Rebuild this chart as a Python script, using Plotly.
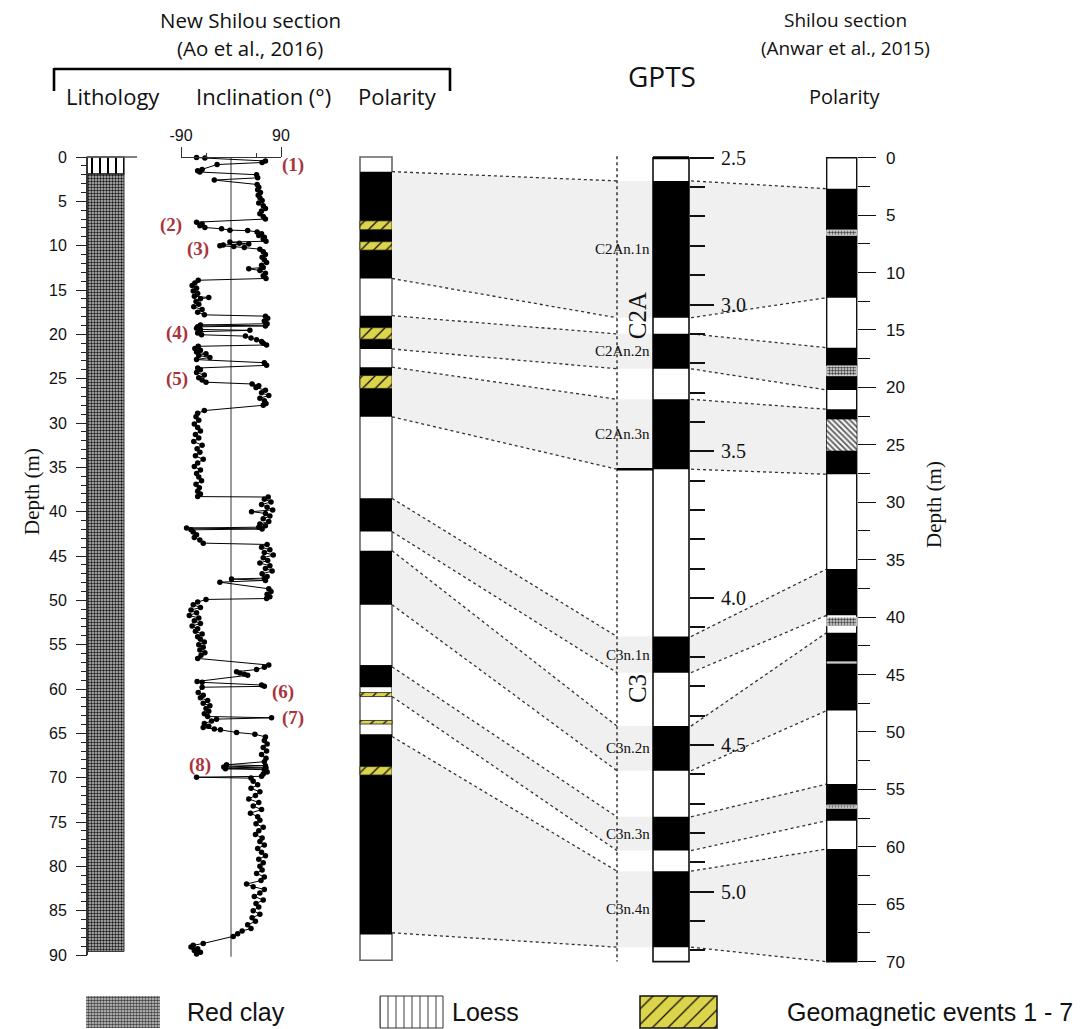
import plotly.graph_objects as go

W, H = 1089, 1029

# ------------------------------------------------------------------ data
# Inclination record, New Shilou section (depth m, inclination deg)
incl_depth = [
    0.05, 0.12, 0.45, 0.62, 0.85, 1.40, 1.55, 1.70, 2.00, 2.35, 2.60, 3.10,
    3.40, 3.70, 4.00, 4.30, 4.60, 4.90, 5.20, 5.50, 5.80, 6.10, 6.40, 6.70, 7.00,
    7.35, 7.55, 7.75, 7.95, 8.10, 8.25, 8.30, 8.45, 8.65, 8.85, 9.05, 9.25, 9.50,
    9.60, 9.72, 9.80, 9.92, 10.02, 10.10, 10.20, 10.40, 10.70, 11.00, 11.30, 11.60,
    11.90, 12.20, 12.45, 12.60, 12.80, 13.10, 13.40, 13.70,
    13.90, 14.20, 14.50, 14.80, 15.10, 15.40, 15.70, 15.85, 16.00, 16.30, 16.60,
    16.90, 17.20, 17.50, 17.80,
    17.95, 18.20, 18.50, 18.80, 18.95, 19.05, 19.15, 19.30, 19.45, 19.55, 19.70,
    19.85, 20.05, 20.20, 20.40, 20.60, 20.80, 21.00, 21.20,
    21.35, 21.60, 21.80, 22.00, 22.20, 22.40, 22.60, 22.85, 23.20, 23.50,
    23.80, 24.00, 24.30, 24.60, 24.90, 25.15, 25.40,
    25.60, 25.80, 26.00, 26.30, 26.60, 26.90, 27.20, 27.50, 27.80, 28.00,
    28.60, 28.90, 29.30, 29.70, 30.10, 30.50, 30.90, 31.30, 31.70, 32.10, 32.50,
    32.90, 33.30, 33.70, 34.10, 34.50, 34.90, 35.30, 35.70, 36.10, 36.50, 36.90,
    37.30, 37.70, 38.00, 38.30,
    38.35, 38.60, 38.90, 39.20, 39.50, 39.80, 40.00, 40.20, 40.50, 40.80, 41.10,
    41.40, 41.60, 41.75, 41.85, 41.95, 42.05, 42.30, 42.60, 42.90, 43.20, 43.55,
    43.70, 44.00, 44.30, 44.60, 44.90, 45.20, 45.50, 45.80, 46.10, 46.40, 46.70,
    47.00, 47.30, 47.50, 47.60, 47.75, 47.95, 48.70, 49.00, 49.30, 49.60, 49.80,
    49.90, 50.20, 50.50, 50.80, 51.10, 51.40, 51.70, 52.00, 52.30, 52.60, 52.90,
    53.20, 53.50, 53.80, 54.10, 54.40, 54.70, 55.00, 55.30, 55.60, 55.90, 56.20,
    56.55,
    57.30, 57.55, 57.80, 58.05, 58.20, 58.35, 58.45, 59.15, 59.25, 59.55, 59.70,
    59.80, 60.40, 60.70, 61.00, 61.30, 61.60, 61.90, 62.20, 62.50, 62.80, 63.10,
    63.25, 63.40, 63.60, 63.90, 64.20, 64.35, 64.50, 64.60, 64.90,
    65.10, 65.40, 65.80, 66.20, 66.60, 67.00, 67.40, 67.80, 68.20, 68.55, 68.65,
    68.80, 68.90, 69.00, 69.10, 69.35, 69.60, 69.85, 69.95, 70.05,
    70.40, 70.80, 71.20, 71.60, 72.00, 72.40, 72.80, 73.20, 73.60, 74.00, 74.40,
    74.80, 75.20, 75.60, 76.00, 76.40, 76.80, 77.20, 77.60, 78.00, 78.40, 78.80,
    79.20, 79.60, 80.00, 80.40, 80.80, 81.20, 81.60, 82.00, 82.30, 82.60, 83.00,
    83.40, 83.80, 84.20, 84.60, 85.00, 85.40, 85.80, 86.20, 86.60, 87.00, 87.30,
    87.60, 87.90,
    88.70, 88.90, 89.10, 89.30, 89.50, 89.70, 89.90,
]
incl_value = [
    -62, -47, 62, 56, -25, -52, -60, -56, 46, 48, -30, 47,
    50, 48, 53, 49, 52, 56, 50, 58, 62, 55, 52, 58, 62,
    -62, -52, -56, -47, -17, -2, 30, 47, 55, 50, 60, 58, 63,
    -2, 15, 32, -14, -20, 5, 24, 52, 58, 62, 56, 60,
    64, 55, 58, 32, 52, 62, 58, 63,
    -59, -65, -70, -62, -68, -60, -66, -40, -55, -63, -58,
    -67, -52, -60, -48,
    62, 66, 60, 65, -55, 62, -60, -62, -55, 34, -58,
    -60, -53, 26, 36, 46, 55, 58, 64,
    -59, -65, -55, -62, -45, -58, -38, -62, 60, 64,
    -60, -55, -62, -48, -58, -52, -45,
    38, 50, 45, 62, 55, 68, 52, 60, 63, 58,
    -48, -60, -63, -58, -66, -60, -55, -64, -58, -67, -52,
    -61, -56, -64, -50, -60, -66, -55, -62, -58, -53, -63,
    -57, -60, -55, -60,
    67, 60, 72, 55, 65, 75, 37, 62, 70, 58, 68,
    52, 62, 50, -80, 56, -72, -68, -62, -66, -56, -50,
    65, 55, 70, 60, 76, 58, 66, 52, 70, 62, 74,
    56, 65, 60, 1, 62, -20, 68, 72, 65, 70, 64,
    -45, -60, -68, -55, -72, -62, -75, -58, -66, -55, -70,
    -60, -64, -52, -60, -55, -48, -58, -50, -56, -47, -54,
    -60,
    68, 60, 46, 10, 16, 24, 30, -61, -52, 55, 60,
    -52, -59, -50, -55, -42, -50, -38, -45, -40, -48, -42,
    73, -26, -35, -48, -40, -50, -30, -19, 10,
    43, 62, 60, 65, 58, 64, 55, 63, 60, -8, 62,
    -13, 63, -10, 60, 65, 58, 55, -62, 36,
    40, 48, 36, 52, 44, 32, 50, 40, 55, 35, 48,
    52, 45, 58, 50, 44, 56, 52, 60, 48, 55, 62,
    50, 58, 52, 56, 46, 60, 54, 28, 40, 60, 52,
    42, 58, 45, 50, 40, 52, 38, 44, 30, 36, 20,
    12, 4,
    -50, -68, -72, -60, -66, -55, -62,
]

# Lithology (m)
loess_top, loess_bot = 0.0, 1.9
redclay_top, redclay_bot = 1.9, 89.6

# New Shilou polarity column (m)
pol_top, pol_bottom = 0.0, 90.6
pol_normal_top = [1.65, 17.9, 23.7, 38.5, 44.4, 57.3, 65.1]
pol_normal_bot = [13.7, 21.65, 29.3, 42.25, 50.5, 59.8, 87.7]
event_top = [7.2, 9.55, 19.25, 24.65, 60.4, 63.55, 68.75]
event_bot = [8.2, 10.5, 20.55, 26.1, 60.85, 63.95, 69.7]

event_label = ["(1)", "(2)", "(3)", "(4)", "(5)", "(6)", "(7)", "(8)"]
event_label_depth = [0.9, 7.7, 10.4, 19.9, 25.0, 60.3, 63.3, 68.6]
event_label_incl = [111, -108, -59, -97, -97, 94, 111, -56]

# GPTS (Ma)
gpts_top, gpts_bottom = 2.5, 5.238
gpts_normal_name = ["C2An.1n", "C2An.2n", "C2An.3n", "C3n.1n", "C3n.2n", "C3n.3n", "C3n.4n"]
gpts_normal_top = [2.579, 3.100, 3.323, 4.131, 4.436, 4.745, 4.930]
gpts_normal_bot = [3.045, 3.219, 3.561, 4.254, 4.588, 4.860, 5.189]
chron_name = ["C2A", "C3"]
chron_label_age = [3.04, 4.31]
chron_boundary_age = 3.561
age_tick = [2.5, 3.0, 3.5, 4.0, 4.5, 5.0]
age_tick_text = ["2.5", "3.0", "3.5", "4.0", "4.5", "5.0"]

# Shilou section, Anwar et al. 2015 (m)
anwar_top, anwar_bottom = 0.0, 70.0
anwar_normal_top = [2.7, 16.54, 21.9, 35.81, 41.35, 54.53, 60.19]
anwar_normal_bot = [12.19, 20.22, 27.56, 39.84, 48.14, 57.72, 70.0]
anwar_stipple_top = [6.3, 18.13, 40.0, 56.36]
anwar_stipple_bot = [6.76, 18.98, 40.77, 56.64]
anwar_hatch_top = [22.78]
anwar_hatch_bot = [25.51]
anwar_grey_top = [43.85]
anwar_grey_bot = [44.05]

# Correlation of normal intervals (New Shilou -> GPTS -> Shilou)
corr_pol_top = [1.65, 17.9, 23.7, 38.5, 44.4, 57.5, 65.35]
corr_pol_bot = [13.7, 21.65, 29.3, 42.25, 50.5, 60.85, 87.5]

# ------------------------------------------------------------------ layout geometry
LEFT_CAL = (0.0, 157.0, 90.0, 955.0)     # value -> pixel row
AGE_CAL = (2.5, 157.7, 5.0, 891.7)
ANW_CAL = (0.0, 157.7, 70.0, 961.7)
INCL_CAL = (-90.0, 181.0, 90.0, 281.0)   # value -> pixel column

LITHO_X = (87, 124)
INCL_X = (181, 281)
POL_X = (360, 392)
DOT_X = 617
GPTS_X = (653, 689)
ANW_X = (826.7, 856.7)


def to_px(v, cal):
    v0, p0, v1, p1 = cal
    return p0 + (v - v0) * (p1 - p0) / (v1 - v0)


def from_px(p, cal):
    v0, p0, v1, p1 = cal
    return v0 + (p - p0) * (v1 - v0) / (p1 - p0)


def full_range(cal):
    return [from_px(H, cal), from_px(0, cal)]


def to_left(v, cal):
    return from_px(to_px(v, cal), LEFT_CAL)


def py(p):
    return 1 - p / H


def blocks(xr, tops, bots, yaxis, color, line_color="rgba(0,0,0,0)", line_width=0, pattern=None):
    n = len(tops)
    marker = dict(color=color, line=dict(color=line_color, width=line_width))
    if pattern is not None:
        marker["pattern"] = pattern
    return go.Bar(
        x=[(xr[0] + xr[1]) / 2] * n,
        y=[b - t for t, b in zip(tops, bots)],
        base=list(tops),
        width=[xr[1] - xr[0]] * n,
        xaxis="x", yaxis=yaxis, marker=marker,
        showlegend=False, hoverinfo="skip",
    )


REDCLAY_PAT = dict(shape=".", fgcolor="#1a1a1a", bgcolor="#c4c4c4", size=3, solidity=0.5, fillmode="replace")
LOESS_PAT = dict(shape="|", fgcolor="#000000", bgcolor="#ffffff", size=8, solidity=0.25, fillmode="replace")
EVENT_PAT = dict(shape="/", fgcolor="#111111", bgcolor="#dcd44a", size=9, solidity=0.15, fillmode="replace")
STIPPLE_PAT = dict(shape=".", fgcolor="#444444", bgcolor="#dddddd", size=3, solidity=0.5, fillmode="replace")
HATCH_PAT = dict(shape="\\", fgcolor="#555555", bgcolor="#f4f4f4", size=4, solidity=0.4, fillmode="replace")

fig = go.Figure()

# ---- correlation bands (grey fills + dotted edges)
dot_x, dot_y = [], []
for i in range(len(corr_pol_top)):
    pt, pb = corr_pol_top[i], corr_pol_bot[i]
    at = to_left(gpts_normal_top[i], AGE_CAL)
    ab = to_left(gpts_normal_bot[i], AGE_CAL)
    rt = to_left(anwar_normal_top[i], ANW_CAL)
    rb = to_left(anwar_normal_bot[i], ANW_CAL)
    fig.add_trace(go.Scatter(
        x=[POL_X[1], DOT_X, GPTS_X[0], GPTS_X[0], DOT_X, POL_X[1]],
        y=[pt, at, at, ab, ab, pb], fill="toself", fillcolor="#f0f0f0",
        mode="lines", line=dict(width=0, color="rgba(0,0,0,0)"),
        xaxis="x", yaxis="y", showlegend=False, hoverinfo="skip"))
    fig.add_trace(go.Scatter(
        x=[GPTS_X[1], ANW_X[0], ANW_X[0], GPTS_X[1]],
        y=[at, rt, rb, ab], fill="toself", fillcolor="#f0f0f0",
        mode="lines", line=dict(width=0, color="rgba(0,0,0,0)"),
        xaxis="x", yaxis="y", showlegend=False, hoverinfo="skip"))
    for (xa, ya, xb, yb) in [(POL_X[1], pt, DOT_X, at), (POL_X[1], pb, DOT_X, ab),
                             (GPTS_X[1] + 2, at, ANW_X[0], rt), (GPTS_X[1] + 2, ab, ANW_X[0], rb)]:
        dot_x += [xa, xb, None]
        dot_y += [ya, yb, None]
fig.add_trace(go.Scatter(x=dot_x, y=dot_y, mode="lines",
                         line=dict(color="#333333", width=1.3, dash="dot"),
                         xaxis="x", yaxis="y", showlegend=False, hoverinfo="skip"))

# ---- lithology column
fig.add_trace(blocks(LITHO_X, [redclay_top], [redclay_bot], "y", "#c4c4c4", "#333333", 1, REDCLAY_PAT))
fig.add_trace(blocks(LITHO_X, [loess_top], [loess_bot], "y", "#ffffff", "#111111", 1.2, LOESS_PAT))

# ---- New Shilou polarity column
fig.add_trace(blocks(POL_X, [pol_top], [pol_bottom], "y", "#ffffff", "#666666", 1.6))
fig.add_trace(blocks(POL_X, pol_normal_top, pol_normal_bot, "y", "#000000"))
fig.add_trace(blocks(POL_X, event_top, event_bot, "y", "#dcd44a", "#222222", 0.8, EVENT_PAT))

# ---- GPTS column
fig.add_trace(blocks(GPTS_X, [gpts_top], [gpts_bottom], "y2", "#ffffff", "#111111", 1.6))
fig.add_trace(blocks(GPTS_X, gpts_normal_top, gpts_normal_bot, "y2", "#000000"))

# ---- Anwar polarity column
fig.add_trace(blocks(ANW_X, [anwar_top], [anwar_bottom], "y3", "#ffffff", "#111111", 1.4))
fig.add_trace(blocks(ANW_X, anwar_normal_top, anwar_normal_bot, "y3", "#000000"))
fig.add_trace(blocks(ANW_X, anwar_stipple_top, anwar_stipple_bot, "y3", "#dddddd", "#ffffff", 0.8, STIPPLE_PAT))
fig.add_trace(blocks(ANW_X, anwar_hatch_top, anwar_hatch_bot, "y3", "#f4f4f4", "rgba(0,0,0,0)", 0, HATCH_PAT))
fig.add_trace(blocks(ANW_X, anwar_grey_top, anwar_grey_bot, "y3", "#c8c8c8"))

# ---- legend swatches
LEG_TOP = from_px(996, LEFT_CAL)
LEG_BOT = from_px(1028, LEFT_CAL)
fig.add_trace(blocks((86, 160), [LEG_TOP], [LEG_BOT], "y", "#cccccc", "rgba(0,0,0,0)", 0,
                     dict(shape=".", fgcolor="#444444", bgcolor="#d0d0d0", size=3, solidity=0.55, fillmode="replace")))
fig.add_trace(blocks((380, 443), [LEG_TOP], [LEG_BOT], "y", "#ffffff", "#333333", 1,
                     dict(shape="|", fgcolor="#333333", bgcolor="#ffffff", size=8, solidity=0.12, fillmode="replace")))
fig.add_trace(blocks((640, 717), [LEG_TOP], [LEG_BOT], "y", "#dcd44a", "#111111", 1.5,
                     dict(shape="/", fgcolor="#111111", bgcolor="#dcd44a", size=11, solidity=0.12, fillmode="replace")))

# ---- inclination curve
fig.add_trace(go.Scatter(x=incl_value, y=incl_depth, xaxis="x2", yaxis="y",
                         mode="lines+markers", line=dict(color="#000000", width=1),
                         marker=dict(color="#000000", size=5.5), cliponaxis=False,
                         showlegend=False, hoverinfo="skip"))

# ------------------------------------------------------------------ shapes
shapes = [
    dict(type="line", xref="x2", yref="y", x0=0, x1=0, y0=0, y1=90.2,
         line=dict(color="#555555", width=1.2), layer="below"),
    dict(type="line", xref="x", yref="y", x0=LITHO_X[0], x1=LITHO_X[0], y0=0, y1=90,
         line=dict(color="#333333", width=2)),
    dict(type="line", xref="x", yref="y", x0=LITHO_X[0], x1=137, y0=0, y1=0,
         line=dict(color="#555555", width=1.5)),
    dict(type="line", xref="x", yref="y2", x0=DOT_X, x1=DOT_X, y0=gpts_top - 0.005, y1=gpts_bottom,
         line=dict(color="#333333", width=1.5, dash="dot")),
    dict(type="line", xref="x", yref="y2", x0=GPTS_X[0], x1=GPTS_X[1], y0=gpts_top, y1=gpts_top,
         line=dict(color="#000000", width=3)),
    dict(type="line", xref="x", yref="y2", x0=DOT_X, x1=GPTS_X[0], y0=chron_boundary_age,
         y1=chron_boundary_age, line=dict(color="#000000", width=2.5)),
    dict(type="line", xref="x", yref="paper", x0=54, x1=450, y0=py(69), y1=py(69),
         line=dict(color="#000000", width=2.6)),
    dict(type="line", xref="x", yref="paper", x0=54, x1=54, y0=py(68), y1=py(91),
         line=dict(color="#000000", width=2.6)),
    dict(type="line", xref="x", yref="paper", x0=450, x1=450, y0=py(68), y1=py(91),
         line=dict(color="#000000", width=2.6)),
]

# ------------------------------------------------------------------ annotations
SANS = "Open Sans, Liberation Sans, sans-serif"
ARIAL = "Liberation Sans, Arial, sans-serif"
SERIF = "Liberation Serif, Times New Roman, serif"
ann = []


def text(x, ypix, s, size, family=SANS, xanchor="center", angle=0, color="#111111"):
    ann.append(dict(x=x, y=py(ypix), xref="x", yref="paper", text=s, showarrow=False,
                    xanchor=xanchor, yanchor="middle", textangle=angle,
                    font=dict(family=family, size=size, color=color)))


text(250, 20, "New Shilou section", 20.5)
text(250, 48, "(Ao et al., 2016)", 20.5)
text(113, 96, "Lithology", 22)
text(263, 96, "Inclination (°)", 22)
text(397, 96, "Polarity", 22)
text(662, 76, "GPTS", 28)
text(845, 20, "Shilou section", 19)
text(845, 48, "(Anwar et al., 2015)", 19)
text(845, 96, "Polarity", 20)
text(32, 492, "Depth (m)", 21, SERIF, angle=-90)
text(934, 505, "Depth (m)", 21, SERIF, angle=-90)
text(185, 1012, "Red clay", 25, ARIAL, xanchor="left")
text(450, 1012, "Loess", 25, ARIAL, xanchor="left")
text(785, 1012, "Geomagnetic events 1 - 7", 25, ARIAL, xanchor="left")

for name, a0, a1 in zip(gpts_normal_name, gpts_normal_top, gpts_normal_bot):
    ann.append(dict(x=GPTS_X[0] - 1, y=(a0 + a1) / 2, xref="x", yref="y2", text=name,
                    showarrow=False, xanchor="right", yanchor="middle",
                    font=dict(family=SERIF, size=15, color="#111111")))
for name, a in zip(chron_name, chron_label_age):
    ann.append(dict(x=637, y=a, xref="x", yref="y2", text=name, showarrow=False,
                    xanchor="center", yanchor="middle", textangle=-90,
                    font=dict(family=SERIF, size=25, color="#111111")))
for lab, d, v in zip(event_label, event_label_depth, event_label_incl):
    ann.append(dict(x=to_px(v, INCL_CAL), y=d, xref="x", yref="y", text="<b>" + lab + "</b>",
                    showarrow=False, xanchor="center", yanchor="middle",
                    font=dict(family=SERIF, size=19, color="#a8343c")))

# ------------------------------------------------------------------ axes
depth_tick = list(range(0, 91, 5))
depth_minor = [d for d in range(1, 90) if d % 5]
age_minor = [round(2.5 + 0.1 * k, 1) for k in range(1, 28) if k % 5]
anwar_tick = list(range(0, 71, 5))
anwar_minor = [2.5 + 5 * k for k in range(14)]

fig.update_layout(
    width=W, height=H, margin=dict(l=0, r=0, t=0, b=0, pad=0, autoexpand=False),
    paper_bgcolor="#ffffff", plot_bgcolor="rgba(0,0,0,0)",
    barmode="overlay", showlegend=False,
    shapes=shapes, annotations=ann,
    xaxis=dict(domain=[0, 1], range=[0, W], visible=False, fixedrange=True, automargin=False),
    xaxis2=dict(domain=[INCL_X[0] / W, INCL_X[1] / W], range=[-90, 90], anchor="free",
                position=py(157), side="top", tickmode="array", tickvals=[-90, 90],
                ticktext=["-90", "90"], ticks="outside", ticklen=10, tickwidth=1.2,
                tickcolor="#333333", showline=True, linecolor="#333333", linewidth=1.2,
                showgrid=False, zeroline=False, automargin=False,
                tickfont=dict(family=ARIAL, size=16, color="#111111"),
                minor=dict(tickvals=[-45, 45], ticks="outside", ticklen=4, tickwidth=1.2,
                           tickcolor="#333333", showgrid=False)),
    yaxis=dict(domain=[0, 1], range=full_range(LEFT_CAL), anchor="free",
               position=LITHO_X[0] / W, side="left", tickmode="array", tickvals=depth_tick,
               ticks="outside", ticklen=11, tickwidth=1.3, tickcolor="#222222",
               showline=False, showgrid=False, zeroline=False, ticklabelstandoff=6,
               automargin=False,
               tickfont=dict(family=ARIAL, size=16, color="#111111"),
               minor=dict(tickvals=depth_minor, ticks="outside", ticklen=6, tickwidth=1,
                          tickcolor="#222222", showgrid=False)),
    yaxis2=dict(overlaying="y", range=full_range(AGE_CAL), anchor="free",
                position=GPTS_X[1] / W, side="right", tickmode="array", tickvals=age_tick,
                ticktext=age_tick_text, ticks="outside", ticklen=24, tickwidth=1.5,
                tickcolor="#111111", showline=False, showgrid=False, zeroline=False,
                ticklabelstandoff=3, automargin=False,
                tickfont=dict(family=SERIF, size=20, color="#111111"),
                minor=dict(tickvals=age_minor, ticks="outside", ticklen=15, tickwidth=1.5,
                           tickcolor="#111111", showgrid=False)),
    yaxis3=dict(overlaying="y", range=full_range(ANW_CAL), anchor="free",
                position=ANW_X[1] / W, side="right", tickmode="array", tickvals=anwar_tick,
                ticks="outside", ticklen=18, tickwidth=1.3, tickcolor="#111111",
                showline=False, showgrid=False, zeroline=False, ticklabelstandoff=7,
                automargin=False,
                tickfont=dict(family=ARIAL, size=17, color="#111111"),
                minor=dict(tickvals=anwar_minor, ticks="outside", ticklen=12, tickwidth=1.3,
                           tickcolor="#111111", showgrid=False)),
)

fig.write_html("out.html", config={"displayModeBar": False},
               post_script="document.body.style.margin='0px';")
